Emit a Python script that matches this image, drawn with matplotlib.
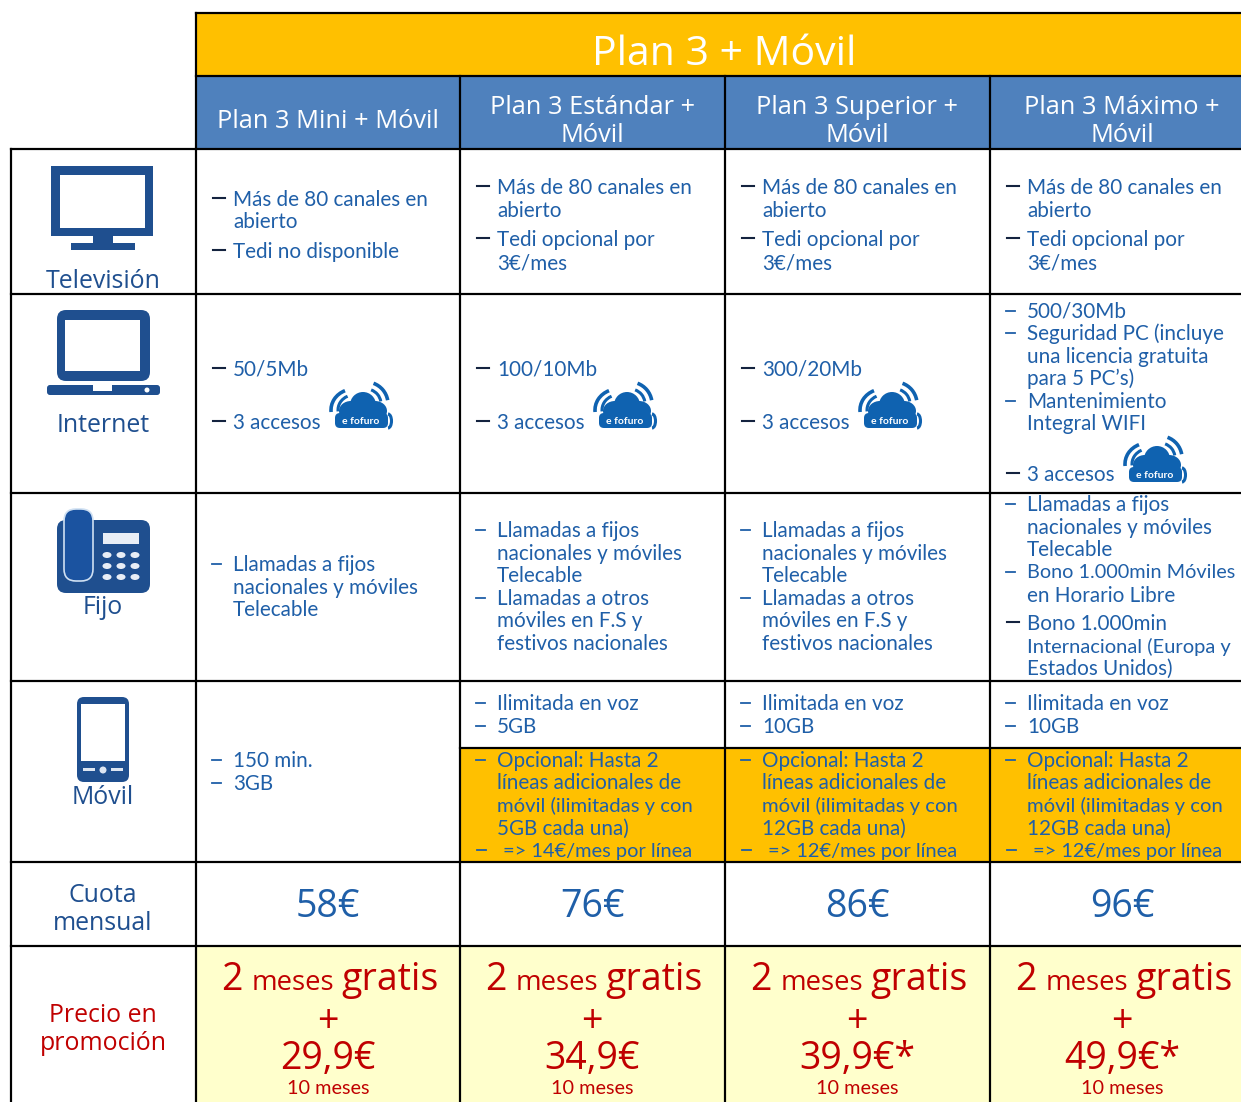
import matplotlib
matplotlib.use("Agg")
import matplotlib.pyplot as plt
from matplotlib.patches import Rectangle, FancyBboxPatch, Ellipse, Arc

BLUE_HEAD = "#4F81BD"
GOLD = "#FFC000"
PALE = "#FFFFCC"
TXT = "#1F5FA8"
DARK = "#1F4F8F"
RED = "#C00000"

TITLE = "Plan 3 + Móvil"
PLANS = [["Plan 3 Mini + Móvil"], ["Plan 3 Estándar +", "Móvil"],
         ["Plan 3 Superior +", "Móvil"], ["Plan 3 Máximo +", "Móvil"]]
ROW_LABELS = ["Televisión", "Internet", "Fijo", "Móvil"]
FEES = ["58€", "76€", "86€", "96€"]
PROMO_PRICES = ["29,9€", "34,9€", "39,9€*", "49,9€*"]

# (dash kind, text): "k" long dark dash, "b" short blue dash, "" continuation
TV_NO = [("k", "Más de 80 canales en"), ("", "abierto"), ("k", "Tedi no disponible")]
TV_YES = [("k", "Más de 80 canales en"), ("", "abierto"), ("k", "Tedi opcional por"), ("", "3€/mes")]
NET_MAX = [("b", "500/30Mb"), ("b", "Seguridad PC (incluye"), ("", "una licencia gratuita"),
           ("", "para 5 PC’s)"), ("b", "Mantenimiento"), ("", "Integral WIFI"), ("k", "3 accesos")]
FIJO_MINI = [("b", "Llamadas a fijos"), ("", "nacionales y móviles"), ("", "Telecable")]
FIJO_MID = FIJO_MINI + [("b", "Llamadas a otros"), ("", "móviles en F.S y"), ("", "festivos nacionales")]
FIJO_MAX = FIJO_MINI + [("b", "Bono 1.000min Móviles"), ("", "en Horario Libre"),
                        ("k", "Bono 1.000min"), ("", "Internacional (Europa y"), ("", "Estados Unidos)")]
MOV_MINI = [("b", "150 min."), ("b", "3GB")]
MOV_5 = [("b", "Ilimitada en voz"), ("b", "5GB")]
MOV_10 = [("b", "Ilimitada en voz"), ("b", "10GB")]
OPT_LINES = [("b", "Opcional: Hasta 2"), ("", "líneas adicionales de"), ("", "móvil (ilimitadas y con")]
OPT_5 = OPT_LINES + [("", "5GB cada una)")]
OPT_12 = OPT_LINES + [("", "12GB cada una)")]
OPT_FEES = ["=> 14€/mes por línea", "=> 12€/mes por línea", "=> 12€/mes por línea"]

# layout, in reference pixels
COLS = [196, 460, 725, 990, 1241]
COL_W = 264.5
RULES_Y = [149, 294, 493, 681, 862, 946]
TV_Y3 = [199, 221, 251]
TV_Y4 = [187, 210, 239, 262]
NET_Y2 = [369, 422]
NET_Y7 = [311, 333, 356, 378, 401, 423, 474]
FIJO_Y3 = [564, 587, 609]
FIJO_Y6 = [530, 553, 575, 598, 620, 643]
FIJO_Y8 = [504, 527, 549, 572, 595, 623, 646, 668]
MOV_Y2 = [760, 783]
MOV_TOP_Y = [703, 726]
OPT_Y = [760, 782, 805, 828]
BODY_PT = 14.9
LABEL_PT = 17.9
# the reference squeezes a few long lines
TIGHT_PT = {"Bono 1.000min Móviles": 14.3, "Internacional (Europa y": 14.5,
            "móvil (ilimitadas y con": 14.6, "=> 14€/mes por línea": 14.4, "=> 12€/mes por línea": 14.4}

plt.rcParams["font.family"] = ["Lato", "DejaVu Sans"]
fig = plt.figure(figsize=(12.41, 11.02), dpi=100)
ax = fig.add_axes([0, 0, 1, 1])
ax.set_xlim(0, 1241)
ax.set_ylim(1102, 0)
ax.axis("off")


def rect(x0, y0, x1, y1, color, z=1):
    ax.add_patch(Rectangle((x0, y0), x1 - x0, y1 - y0, fc=color, ec="none", zorder=z))


def rule(x0, y0, x1, y1, lw=2.2):
    ax.plot([x0, x1], [y0, y1], color="black", lw=lw * 0.72, zorder=5, solid_capstyle="projecting")


def cell_lines(col, lines, ys):
    tx = COLS[col] + 37
    for (kind, s), y in zip(lines, ys):
        if kind == "k":
            ax.plot([COLS[col] + 17, COLS[col] + 29], [y - 1, y - 1], color="#14233f", lw=1.5, zorder=4)
        elif kind == "b":
            ax.plot([COLS[col] + 16, COLS[col] + 25], [y, y], color=TXT, lw=1.3, zorder=4)
        ax.text(tx, y + 1, s, color=TXT, fontsize=TIGHT_PT.get(s, BODY_PT), ha="left", va="center", zorder=4)


def tv_icon(x, y):
    rect(x, y, x + 102, y + 70, DARK, 3)
    rect(x + 9, y + 9, x + 94, y + 62, "white", 3)
    rect(x + 42, y + 70, x + 62, y + 77, DARK, 3)
    rect(x + 20, y + 77, x + 84, y + 84, DARK, 3)


def laptop_icon(x, y):
    ax.add_patch(FancyBboxPatch((x + 10, y), 93, 71, boxstyle="round,pad=0,rounding_size=9", fc=DARK, ec="none", zorder=3))
    rect(x + 18, y + 10, x + 93, y + 61, "white", 3)
    ax.add_patch(FancyBboxPatch((x, y + 75), 113, 10, boxstyle="round,pad=0,rounding_size=3", fc=DARK, ec="none", zorder=3))
    rect(x + 46, y + 74, x + 65, y + 81, "white", 3)
    ax.add_patch(Ellipse((x + 100, y + 80), 5, 5, fc="white", ec="none", zorder=3))


def phone_icon(x, y):
    ax.add_patch(FancyBboxPatch((x + 10, y + 11), 93, 73, boxstyle="round,pad=0,rounding_size=9", fc=DARK, ec="none", zorder=3))
    rect(x + 56, y + 24, x + 92, y + 35, "#E8EEF6", 3)
    ax.add_patch(FancyBboxPatch((x + 17, y), 29, 72, boxstyle="round,pad=0,rounding_size=12", fc="#1B53A0", ec="#CFE0F2", lw=1.2, zorder=3))
    for r in range(3):
        for c in range(3):
            ax.add_patch(Ellipse((x + 60 + c * 14, y + 46 + r * 11), 9, 6, fc="#E8EEF6", ec="none", zorder=4))


def mobile_icon(x, y):
    ax.add_patch(FancyBboxPatch((x, y), 52, 85, boxstyle="round,pad=0,rounding_size=7", fc=DARK, ec="none", zorder=3))
    rect(x + 4, y + 7, x + 48, y + 64, "white", 3)
    rect(x + 6, y + 71, x + 18, y + 74, "#DDE6F2", 3)
    rect(x + 34, y + 71, x + 46, y + 74, "#DDE6F2", 3)
    ax.add_patch(Ellipse((x + 26, y + 73), 7, 7, fc="#DDE6F2", ec="none", zorder=4))


def cloud_icon(x, y):
    c = "#0F62B0"
    for ex, ey, w, h in [(33, 24, 26, 26), (21, 30, 24, 20), (45, 30, 24, 20)]:
        ax.add_patch(Ellipse((x + ex, y + ey), w, h, fc=c, ec="none", zorder=4))
    ax.add_patch(FancyBboxPatch((x + 5, y + 32), 53, 15, boxstyle="round,pad=0,rounding_size=5", fc=c, ec="none", zorder=4))
    ax.text(x + 31, y + 40, "e fofuro", color="white", fontsize=7.5, fontweight="bold", ha="center", va="center", zorder=5)
    ax.add_patch(Arc((x + 24, y + 29), 46, 42, theta1=175, theta2=245, color=c, lw=2.6, zorder=4))
    ax.add_patch(Arc((x + 24, y + 29), 32, 30, theta1=175, theta2=245, color=c, lw=2.2, zorder=4))
    ax.add_patch(Arc((x + 36, y + 23), 44, 44, theta1=290, theta2=350, color=c, lw=2.6, zorder=4))
    ax.add_patch(Arc((x + 36, y + 23), 30, 30, theta1=290, theta2=350, color=c, lw=2.2, zorder=4))
    ax.add_patch(Arc((x + 58, y + 40), 7, 14, theta1=270, theta2=90, color=c, lw=2.2, zorder=4))


# fills
rect(196, 13, 1241, 76, GOLD)
rect(196, 76, 1241, 149, BLUE_HEAD)
rect(460, 748, 1241, 862, GOLD)
rect(196, 946, 1241, 1102, PALE)

# grid
rule(196, 13, 1241, 13)
rule(196, 13, 196, 149)
rule(196, 76, 1241, 76)
for x in COLS[1:4]:
    rule(x, 76, x, 1102)
rule(196, 149, 196, 1102)
rule(11, 149, 11, 1102)
for y in RULES_Y:
    rule(11, y, 1241, y)
rule(460, 748, 1241, 748)

# headers
ax.text(724, 55, TITLE, color="white", fontsize=29.5, ha="center", va="center", family="Open Sans", zorder=4)
for i, plan in enumerate(PLANS):
    cx = COLS[i] + COL_W / 2
    ys = [122] if len(plan) == 1 else [108, 136]
    for s, y in zip(plan, ys):
        ax.text(cx, y, s, color="white", fontsize=18.3, ha="center", va="center", family="Open Sans", zorder=4)

# row labels
for s, y in zip(ROW_LABELS, [281, 425, 608, 797]):
    ax.text(103, y, s, color=DARK, fontsize=LABEL_PT, ha="center", va="center", family="Open Sans", zorder=6)
ax.text(103, 895, "Cuota", color=DARK, fontsize=LABEL_PT, ha="center", va="center", family="Open Sans")
ax.text(103, 923, "mensual", color=DARK, fontsize=LABEL_PT, ha="center", va="center", family="Open Sans")
ax.text(103, 1015, "Precio en", color=RED, fontsize=LABEL_PT, ha="center", va="center", family="Open Sans")
ax.text(103, 1044, "promoción", color=RED, fontsize=LABEL_PT, ha="center", va="center", family="Open Sans")

# icons
tv_icon(51, 166)
laptop_icon(47, 310)
phone_icon(47, 509)
mobile_icon(77, 697)

# body
cell_lines(0, TV_NO, TV_Y3)
for c in (1, 2, 3):
    cell_lines(c, TV_YES, TV_Y4)
for c, speed in zip((0, 1, 2), ["50/5Mb", "100/10Mb", "300/20Mb"]):
    cell_lines(c, [("k", speed), ("k", "3 accesos")], NET_Y2)
    cloud_icon(COLS[c] + 134, 381)
cell_lines(3, NET_MAX, NET_Y7)
cloud_icon(COLS[3] + 134, 435)
cell_lines(0, FIJO_MINI, FIJO_Y3)
cell_lines(1, FIJO_MID, FIJO_Y6)
cell_lines(2, FIJO_MID, FIJO_Y6)
cell_lines(3, FIJO_MAX, FIJO_Y8)
cell_lines(0, MOV_MINI, MOV_Y2)
cell_lines(1, MOV_5, MOV_TOP_Y)
cell_lines(2, MOV_10, MOV_TOP_Y)
cell_lines(3, MOV_10, MOV_TOP_Y)
cell_lines(1, OPT_5, OPT_Y)
cell_lines(2, OPT_12, OPT_Y)
cell_lines(3, OPT_12, OPT_Y)
for c, s in zip((1, 2, 3), OPT_FEES):
    x = COLS[c]
    ax.plot([x + 17, x + 26], [850, 850], color=TXT, lw=1.3, zorder=4)
    ax.text(x + 43, 851, s, color=TXT, fontsize=TIGHT_PT[s], ha="left", va="center", zorder=4)

# fee and promo rows
for i in range(4):
    x = COLS[i]
    cx = x + COL_W / 2
    ax.text(cx, 907, FEES[i], color=TXT, fontsize=27, ha="center", va="center", family="Open Sans", zorder=4)
    ax.text(x + 25, 990, "2", color=RED, fontsize=27, ha="left", va="baseline", family="Open Sans", zorder=4)
    ax.text(x + 56, 990, "meses", color=RED, fontsize=19.8, ha="left", va="baseline", family="Open Sans", zorder=4)
    ax.text(x + 145, 990, "gratis", color=RED, fontsize=27, ha="left", va="baseline", family="Open Sans", zorder=4)
    ax.text(cx, 1022, "+", color=RED, fontsize=27, ha="center", va="center", family="Open Sans", zorder=4)
    ax.text(cx, 1059, PROMO_PRICES[i], color=RED, fontsize=27, ha="center", va="center", family="Open Sans", zorder=4)
    ax.text(cx, 1088, "10 meses", color=RED, fontsize=14.3, ha="center", va="center", zorder=4)

fig.savefig("out.png", dpi=100)
